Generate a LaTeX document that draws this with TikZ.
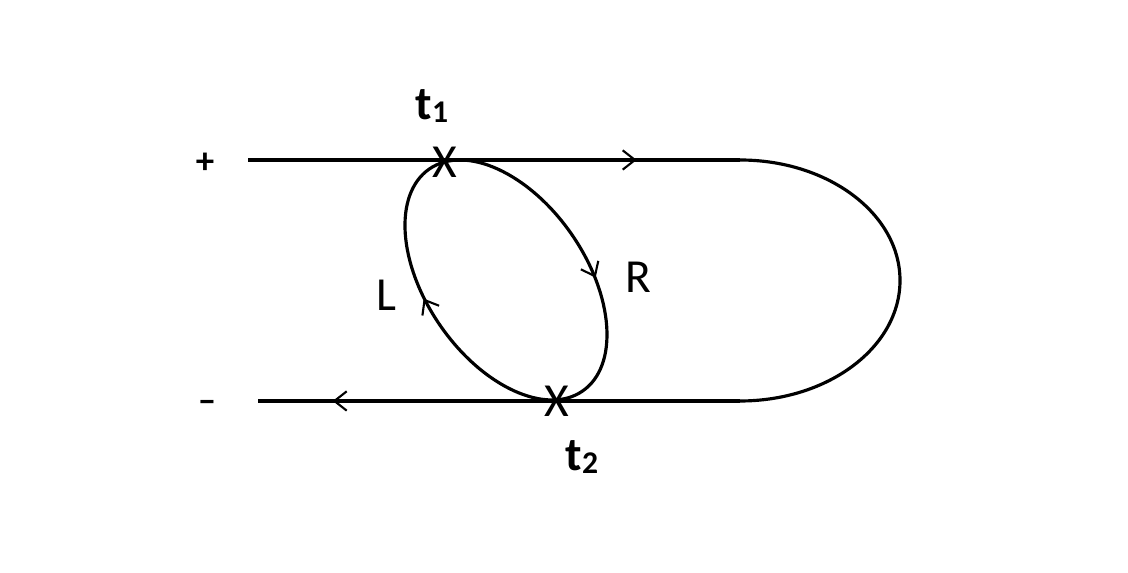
\documentclass[tikz,border=0pt]{standalone}
\usepackage{fontspec}
\setmainfont{Carlito}
\usetikzlibrary{arrows.meta,decorations.markings}

\begin{document}
\begin{tikzpicture}[x=0.02cm,y=0.02cm,line width=1.8pt,
  >={Straight Barb[length=7pt,width=11pt,line width=1.2pt]},
  lbl/.style={inner sep=0pt,font=\fontsize{27}{30}\selectfont},
  tlbl/.style={inner sep=0pt,font=\fontsize{27}{30}\selectfont\bfseries},
  sgn/.style={inner sep=0pt,font=\fontsize{21}{24}\selectfont\bfseries},
  flow/.style={postaction={decorate},decoration={markings,
      mark=at position #1 with {\arrow{>}}}},
  backflow/.style 2 args={postaction={decorate},decoration={markings,
      mark=at position #1 with {\arrow{<}},
      mark=at position #2 with {\arrow{<}}}}]
  \useasboundingbox (0,0) rectangle (1128,573);
  % contour ends
  \coordinate (tl) at (248,413);
  \coordinate (tr) at (740,413);
  \coordinate (br) at (740,172);
  \coordinate (bl) at (258,172);
  \coordinate (ec) at (506,293);
  % outer contour
  \draw[flow=0.79] (tl) -- (tr);
  \draw (tr) arc[start angle=90,end angle=-90,x radius=160,y radius=120.5];
  \draw[flow=0.845] (br) -- (bl);
  % loop
  \draw[rotate around={-55.4:(ec)},backflow={0.2}{0.726}]
    (ec) ellipse [x radius=134.9,y radius=80];
  % crossings and labels
  \node[lbl] (xone) at (445,411) {X};
  \node[lbl] (xtwo) at (557,172) {X};
  \node[tlbl] (tone) at (432,467) {t\raisebox{-2pt}{\fontsize{18}{18}\selectfont 1}};
  \node[tlbl] (ttwo) at (582,116) {t\raisebox{-2pt}{\fontsize{18}{18}\selectfont 2}};
  \node[lbl] (left) at (386,278) {L};
  \node[lbl] (right) at (638,296) {R};
  \node[sgn] (plus) at (205,410) {+};
  \node[sgn] (minus) at (207,167) {–};
\end{tikzpicture}
\end{document}
